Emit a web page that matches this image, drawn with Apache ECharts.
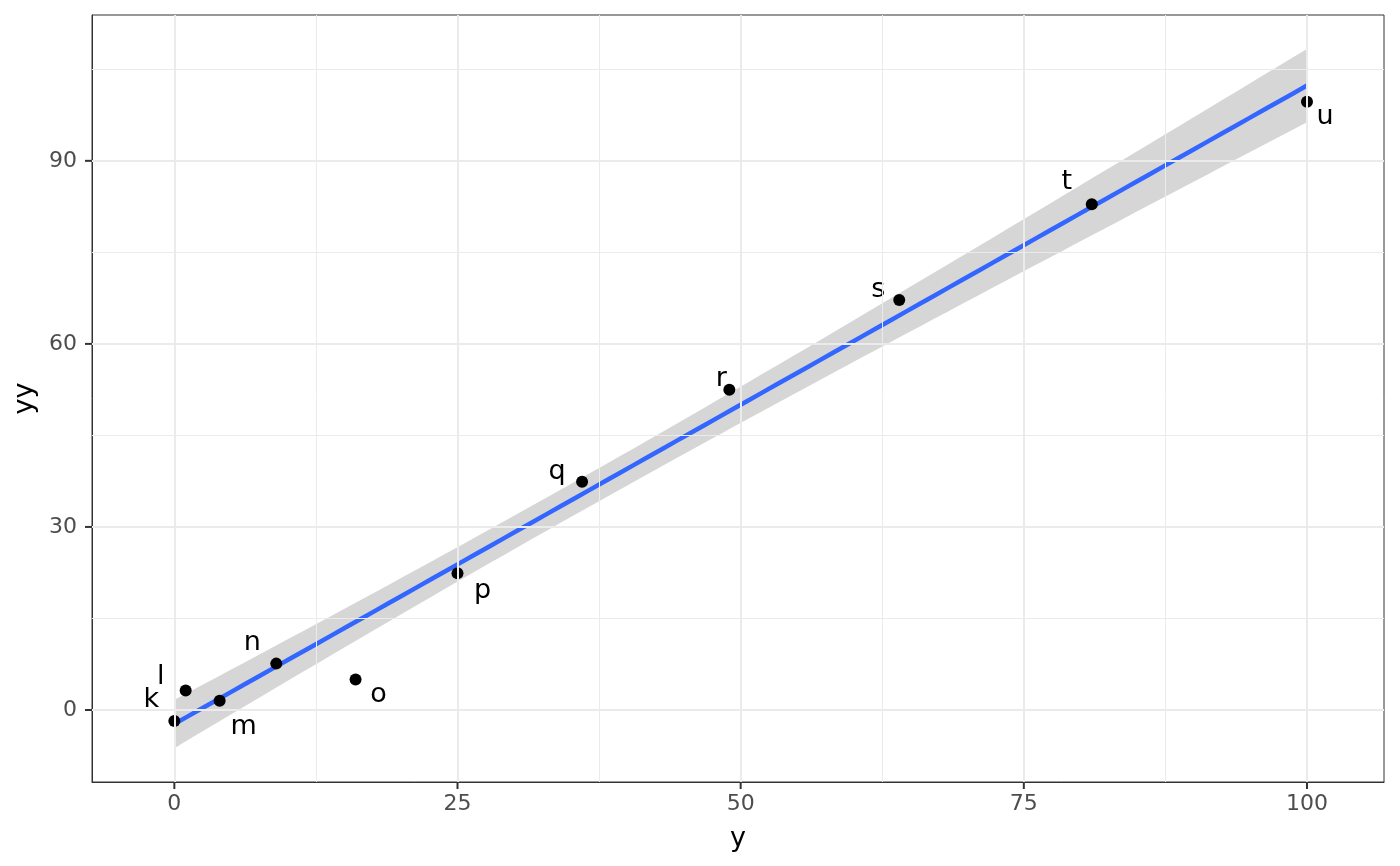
<!DOCTYPE html>
<html><head><meta charset="utf-8">
<script src="https://cdn.jsdelivr.net/npm/echarts@6/dist/echarts.min.js"></script>
<style>html,body{margin:0;padding:0;background:#fff}#c{width:1400px;height:866px}</style>
</head><body><div id="c"></div>
<script>
// ---- data ----
const pointNames = ['k','l','m','n','o','p','q','r','s','t','u'];
const xValues = [0, 1, 4, 9, 16, 25, 36, 49, 64, 81, 100];
const yValues = [-1.8, 3.2, 1.5, 7.6, 5.0, 22.4, 37.4, 52.5, 67.2, 82.9, 99.7];
const xTicks = [0, 25, 50, 75, 100];
const xMinorTicks = [12.5, 37.5, 62.5, 87.5];
const yTicks = [0, 30, 60, 90];
const yMinorTicks = [15, 45, 75, 105];
const xRange = [-7.27, 106.8];
const yRange = [-11.8, 113.9];

// ---- label placement (styling, pixel offsets) ----
const labelOffsets = [[-23,-21],[-25,-13],[24,26],[-24,-21],[23,15],[25,18],[-25,-10],[-8,-11],[-21,-10],[-25,-22],[18,15]];

// ---- linear model fit with 95% confidence band (stat_smooth method = lm) ----
const n = xValues.length;
const mx = xValues.reduce((a,b)=>a+b,0)/n;
const my = yValues.reduce((a,b)=>a+b,0)/n;
let sxx = 0, sxy = 0;
for (let i=0;i<n;i++){ sxx += (xValues[i]-mx)**2; sxy += (xValues[i]-mx)*(yValues[i]-my); }
const slope = sxy/sxx, intercept = my - slope*mx;
let sse = 0;
for (let i=0;i<n;i++){ sse += (yValues[i]-(intercept+slope*xValues[i]))**2; }
const sRes = Math.sqrt(sse/(n-2));
const tCrit = 2.262157; // qt(0.975, df = 9)
const xLo = Math.min(...xValues), xHi = Math.max(...xValues);
const fitLine = [], bandUpper = [], bandLower = [];
for (let k=0;k<80;k++){
  const x = xLo + (xHi-xLo)*k/79;
  const yh = intercept + slope*x;
  const se = sRes*Math.sqrt(1/n + (x-mx)**2/sxx);
  fitLine.push([x, yh]);
  bandUpper.push([x, yh + tCrit*se]);
  bandLower.push([x, yh - tCrit*se]);
}

const FONT = 'DejaVu Sans';
const GRID = '#EBEBEB';
const TICK_LEN = 7;
const TICK_COLOR = '#333333';
const gridLines = []
  .concat(xMinorTicks.map(v=>({xAxis:v, lineStyle:{color:GRID, width:1, type:'solid'}})))
  .concat(yMinorTicks.map(v=>({yAxis:v, lineStyle:{color:GRID, width:1, type:'solid'}})))
  .concat(xTicks.map(v=>({xAxis:v, lineStyle:{color:GRID, width:2, type:'solid'}})))
  .concat(yTicks.map(v=>({yAxis:v, lineStyle:{color:GRID, width:2, type:'solid'}})));

const chart = echarts.init(document.getElementById('c'), null, {renderer:'canvas'});
chart.setOption({
  animation: false,
  backgroundColor: '#ffffff',
  textStyle: {fontFamily: FONT},
  grid: {left: 92, right: 16, top: 15, bottom: 84, show: true, borderColor: '#333333', borderWidth: 1,
         backgroundColor: 'transparent', containLabel: false, outerBoundsMode: 'none'},
  xAxis: {
    type: 'value', min: xRange[0], max: xRange[1],
    name: 'y', nameLocation: 'middle', nameGap: 43,
    nameTextStyle: {fontSize: 27, color: '#000000', fontFamily: FONT},
    axisLine: {show: true, onZero: false, lineStyle: {color: '#333333', width: 1}},
    axisTick: {show: false},
    axisLabel: {customValues: xTicks, color: '#4D4D4D', fontSize: 22, margin: 11, fontFamily: FONT},
    splitLine: {show: false}, minorSplitLine: {show: false}
  },
  yAxis: {
    type: 'value', min: yRange[0], max: yRange[1],
    name: 'yy', nameLocation: 'middle', nameGap: 40,
    nameTextStyle: {fontSize: 27, color: '#000000', fontFamily: FONT},
    axisLine: {show: true, onZero: false, lineStyle: {color: '#333333', width: 1}},
    axisTick: {show: false},
    axisLabel: {customValues: yTicks, color: '#4D4D4D', fontSize: 22, margin: 15, fontFamily: FONT},
    splitLine: {show: false}, minorSplitLine: {show: false}
  },
  series: [
    {
      type: 'scatter', z: 0, silent: true, data: [[0,0]], symbolSize: 0,
      itemStyle: {opacity: 0},
      markLine: {silent: true, symbol: ['none','none'], label: {show: false}, animation: false,
                 lineStyle: {color: GRID, width: 2, type: 'solid'},
                 emphasis: {disabled: true}, data: gridLines}
    },
    {
      type: 'custom', z: 1, silent: true, clip: true,
      data: [[0,0]],
      renderItem: function(params, api){
        const pts = bandUpper.map(p=>api.coord(p)).concat(bandLower.slice().reverse().map(p=>api.coord(p)));
        return {type: 'polygon', shape: {points: pts}, style: {fill: 'rgba(153,153,153,0.4)'}};
      }
    },
    {
      type: 'line', z: 2, silent: true, data: fitLine, showSymbol: false, symbol: 'none',
      lineStyle: {color: '#3366FF', width: 4.5}
    },
    {
      type: 'scatter', z: 3, silent: true, symbolSize: 12,
      itemStyle: {color: '#000000', opacity: 1},
      data: xValues.map((x,i)=>({
        value: [x, yValues[i]],
        label: {show: true, position: 'inside', offset: labelOffsets[i], formatter: pointNames[i],
                fontSize: 27, color: '#000000', fontFamily: FONT}
      }))
    },
    // axis ticks (outside the panel), positioned through the axis scales
    {
      type: 'custom', z: 5, silent: true, clip: false,
      data: xTicks.map(v=>[v, yRange[0]]),
      renderItem: function(params, api){
        const p = api.coord([api.value(0), api.value(1)]);
        return {type: 'rect', shape: {x: p[0] - 1, y: p[1], width: 2, height: TICK_LEN},
                style: {fill: TICK_COLOR}};
      }
    },
    {
      type: 'custom', z: 5, silent: true, clip: false,
      data: yTicks.map(v=>[xRange[0], v]),
      renderItem: function(params, api){
        const p = api.coord([api.value(0), api.value(1)]);
        return {type: 'rect', shape: {x: p[0] - TICK_LEN, y: p[1] - 1, width: TICK_LEN, height: 2},
                style: {fill: TICK_COLOR}};
      }
    }
  ]
});
</script>
</body></html>
